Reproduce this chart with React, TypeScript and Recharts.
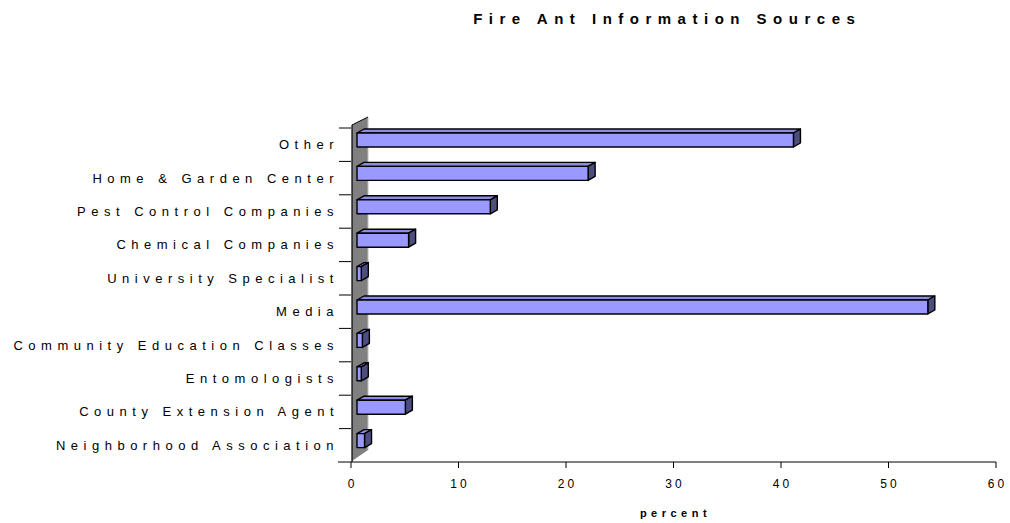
import React from 'react';
import { BarChart, Bar, XAxis, YAxis, ReferenceArea } from 'recharts';

const categories = [
  'Other',
  'Home & Garden Center',
  'Pest Control Companies',
  'Chemical Companies',
  'University Specialist',
  'Media',
  'Community Education Classes',
  'Entomologists',
  'County Extension Agent',
  'Neighborhood Association',
];
const percentValues = [40.6, 21.5, 12.4, 4.8, 0.4, 53.1, 0.5, 0.4, 4.5, 0.7];
const xTicks = [0, 10, 20, 30, 40, 50, 60];
const chartTitle = 'Fire Ant Information Sources';
const xAxisTitle = 'percent';

const data = categories.map((name, i) => ({ name, value: percentValues[i] }));

const W = 1010;
const H = 523;
const MARGIN = { top: 128, right: 14, bottom: 0, left: 0 };
const Y_AXIS_W = 351;
const X_AXIS_H = 61;
const PLOT_H = H - MARGIN.top - MARGIN.bottom - X_AXIS_H;
const FONT = '"Liberation Sans", Arial, sans-serif';
const CAT_LS = 5.5;
const NUM_LS = 3;

const CatTick = (props: any) => {
  const { x, y, payload, index } = props;
  const band = PLOT_H / categories.length;
  const top = y - band / 2;
  const bottom = y + band / 2;
  return (
    <g>
      <line x1={x - 12} x2={x} y1={top} y2={top} stroke="#000" strokeWidth={1} />
      {index === categories.length - 1 && (
        <line x1={x - 13} x2={x} y1={bottom} y2={bottom} stroke="#000" strokeWidth={1} />
      )}
      <text
        x={x - 12}
        y={y}
        textAnchor="end"
        dominantBaseline="central"
        fontSize={13}
        fontFamily={FONT}
        fill="#000"
        style={{ letterSpacing: CAT_LS }}
      >
        {payload.value}
      </text>
    </g>
  );
};

const NumTick = (props: any) => {
  const { x, y, payload } = props;
  return (
    <text
      x={x + NUM_LS / 2}
      y={y}
      dy="0.71em"
      textAnchor="middle"
      fontSize={12}
      fontFamily={FONT}
      fill="#000"
      style={{ letterSpacing: NUM_LS }}
    >
      {payload.value}
    </text>
  );
};

const Wall = (props: any) => {
  const { x, y, height } = props;
  const d = 16;
  const topY = y - 3;
  const botY = y + height - 1;
  const pts = `${x + 1},${topY} ${x + 1 + d},${topY - 8} ${x + 1 + d},${botY - 11} ${x + 1},${botY}`;
  return (
    <g>
      <polygon points={pts} fill="#808080" stroke="none" />
      <line x1={x + 1 + d} x2={x + 1 + d} y1={topY - 8} y2={botY - 11} stroke="#c0c0c0" strokeWidth={1} />
      <line x1={x + 1} x2={x + 1 + d} y1={topY} y2={topY - 8} stroke="#000" strokeWidth={1} />
      <line x1={x + 1} x2={x + 1} y1={topY} y2={botY + 1} stroke="#000" strokeWidth={1.2} />
    </g>
  );
};

const Bar3D = (props: any) => {
  const { x, y, width, height } = props;
  const w = Math.max(width, 0);
  const fx = x + 6;
  const fy = y - 5;
  const h = height;
  const dx = 7;
  const dy = 4;
  return (
    <g stroke="#000" strokeWidth={1.4} strokeLinejoin="round">
      <polygon
        points={`${fx},${fy} ${fx + dx},${fy - dy} ${fx + w + dx},${fy - dy} ${fx + w},${fy}`}
        fill="#8c8ce6"
      />
      <polygon
        points={`${fx + w},${fy} ${fx + w + dx},${fy - dy} ${fx + w + dx},${fy - dy + h} ${fx + w},${fy + h}`}
        fill="#4d4d80"
      />
      <rect x={fx} y={fy} width={w} height={h} fill="#9999ff" />
    </g>
  );
};

const AxisTitle = (props: any) => {
  const vb = props.viewBox || {};
  return (
    <text
      x={vb.x + vb.width / 2 + 2}
      y={vb.y + 51}
      textAnchor="middle"
      dominantBaseline="central"
      fontSize={11}
      fontWeight="bold"
      fontFamily={FONT}
      fill="#000"
      style={{ letterSpacing: 4.5 }}
    >
      {xAxisTitle}
    </text>
  );
};

export default function App() {
  return (
    <div style={{ position: 'absolute', left: 0, top: 0, width: W, height: H, background: '#fff' }}>
      <div
        style={{
          position: 'absolute',
          left: 664,
          top: 10,
          transform: 'translateX(-50%)',
          whiteSpace: 'nowrap',
          fontFamily: FONT,
          fontWeight: 'bold',
          fontSize: 15,
          lineHeight: '17px',
          letterSpacing: 6.5,
          paddingLeft: 6.5,
          color: '#000',
        }}
      >
        {chartTitle}
      </div>
      <BarChart width={W} height={H} data={data} layout="vertical" margin={MARGIN} barSize={14}>
        <XAxis
          type="number"
          domain={[0, 60]}
          ticks={xTicks}
          interval={0}
          height={X_AXIS_H}
          axisLine={{ stroke: '#000', strokeWidth: 1 }}
          tickLine={{ stroke: '#000', strokeWidth: 1 }}
          tickSize={6}
          tickMargin={11}
          tick={<NumTick />}
          label={{ content: AxisTitle }}
        />
        <YAxis
          type="category"
          dataKey="name"
          width={Y_AXIS_W}
          axisLine={false}
          tickLine={false}
          tickSize={0}
          tickMargin={0}
          interval={0}
          tick={<CatTick />}
        />
        <ReferenceArea x1={0} x2={1} ifOverflow="visible" shape={<Wall />} />
        <Bar dataKey="value" isAnimationActive={false} shape={<Bar3D />} />
      </BarChart>
    </div>
  );
}
